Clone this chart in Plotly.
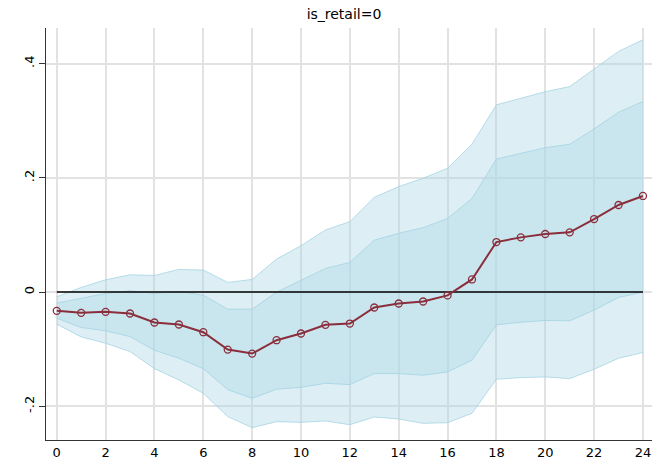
import plotly.graph_objects as go

# Horizon (periods) and impulse-response estimates
horizon = list(range(25))
irf = [-0.0328, -0.0363, -0.0345, -0.0374, -0.0532, -0.0567, -0.0702, -0.1006,
       -0.1076, -0.0842, -0.0725, -0.0573, -0.0550, -0.0269, -0.0199, -0.0164,
       -0.0058, 0.0222, 0.0877, 0.0959, 0.1018, 0.1047, 0.1280, 0.1526, 0.1684]

# Inner confidence band
inner_lo = [-0.0456, -0.0620, -0.0678, -0.0778, -0.1018, -0.1158, -0.1340, -0.1708,
            -0.1860, -0.1700, -0.1667, -0.1597, -0.1620, -0.1427, -0.1427, -0.1456,
            -0.1398, -0.1193, -0.0573, -0.0526, -0.0497, -0.0503, -0.0316, -0.0094, 0.0000]
inner_hi = [-0.0193, -0.0110, -0.0023, 0.0023, -0.0023, 0.0012, -0.0053, -0.0298,
            -0.0298, 0.0000, 0.0210, 0.0415, 0.0520, 0.0910, 0.1030, 0.1129,
            0.1290, 0.1640, 0.2330, 0.2430, 0.2530, 0.2590, 0.2860, 0.3150, 0.3340]

# Outer confidence band
outer_lo = [-0.0561, -0.0784, -0.0895, -0.1040, -0.1340, -0.1538, -0.1772, -0.2180,
            -0.2374, -0.2269, -0.2280, -0.2257, -0.2322, -0.2187, -0.2222, -0.2298,
            -0.2287, -0.2123, -0.1526, -0.1497, -0.1485, -0.1515, -0.1350, -0.1158, -0.1058]
outer_hi = [-0.0082, 0.0082, 0.0216, 0.0304, 0.0292, 0.0398, 0.0386, 0.0170,
            0.0222, 0.0579, 0.0813, 0.1088, 0.1234, 0.1660, 0.1848, 0.1994,
            0.2170, 0.2590, 0.3280, 0.3390, 0.3510, 0.3600, 0.3910, 0.4216, 0.4420]

x_ticks = list(range(0, 25, 2))
y_ticks = [-0.2, 0, 0.2, 0.4]
y_tick_text = ["-.2", "0", ".2", ".4"]

band_line = "rgba(160,210,225,0.75)"
band_fill = "rgba(173,216,230,0.42)"
irf_color = "#8b2e3c"

fig = go.Figure()

for lo, hi in [(outer_lo, outer_hi), (inner_lo, inner_hi)]:
    fig.add_trace(go.Scatter(x=horizon, y=lo, mode="lines",
                             line=dict(color=band_line, width=1),
                             showlegend=False, hoverinfo="skip"))
    fig.add_trace(go.Scatter(x=horizon, y=hi, mode="lines",
                             line=dict(color=band_line, width=1),
                             fill="tonexty", fillcolor=band_fill,
                             showlegend=False, hoverinfo="skip"))

# Zero reference line
fig.add_trace(go.Scatter(x=[horizon[0], horizon[-1]], y=[0, 0], mode="lines",
                         line=dict(color="black", width=1.5),
                         showlegend=False, hoverinfo="skip"))

fig.add_trace(go.Scatter(x=horizon, y=irf, mode="lines+markers",
                         line=dict(color=irf_color, width=2),
                         marker=dict(symbol="circle-open", size=7,
                                     color=irf_color, line=dict(width=1.3)),
                         showlegend=False))

fig.update_layout(
    width=652, height=468,
    margin=dict(l=46, r=0, t=28, b=28),
    paper_bgcolor="white", plot_bgcolor="white",
    font=dict(family="DejaVu Sans", size=13, color="black"),
    title=dict(text="is_retail=0", xref="container", x=344 / 652, xanchor="center",
               yref="container", y=1 - 14 / 468, yanchor="middle",
               font=dict(size=14, color="black")),
    xaxis=dict(range=[-0.44, 24.37], tickvals=x_ticks,
               showgrid=True, gridcolor="#e2e2e2", gridwidth=1.5,
               zeroline=False, showline=True, linecolor="#333333", linewidth=1.3,
               ticks="outside", ticklen=0, tickfont=dict(size=13)),
    yaxis=dict(range=[-0.259, 0.4626], tickvals=y_ticks, ticktext=y_tick_text,
               tickangle=-90,
               showgrid=True, gridcolor="#e2e2e2", gridwidth=1.5,
               zeroline=False, showline=True, linecolor="#333333", linewidth=1.3,
               ticks="outside", ticklen=6, tickcolor="#333333",
               tickfont=dict(size=13)),
)

fig.write_html("out.html")
